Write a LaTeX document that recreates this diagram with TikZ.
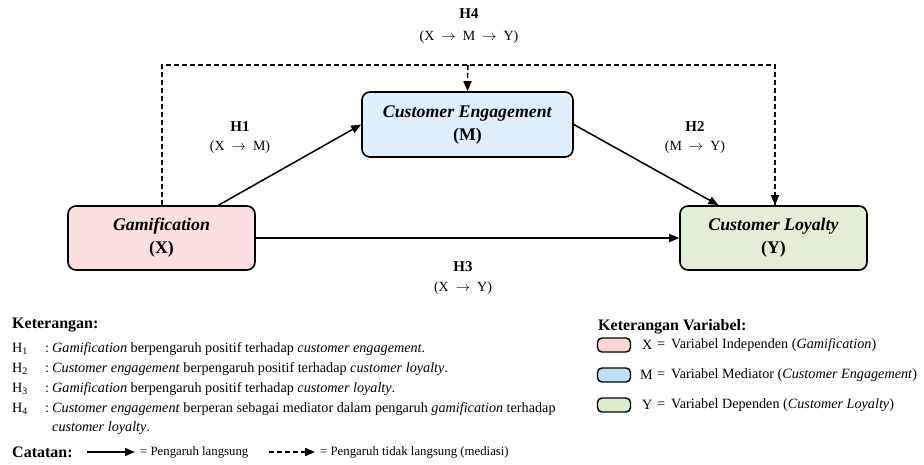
\documentclass[tikz,border=0pt]{standalone}
\usepackage{fontspec}
\setmainfont{Liberation Serif}
\usetikzlibrary{arrows.meta,positioning,calc}
\definecolor{xfill}{HTML}{FBDEDE}
\definecolor{mfill}{HTML}{E0EEFA}
\definecolor{yfill}{HTML}{E2EFD6}
\definecolor{xsw}{HTML}{F8D6D6}
\definecolor{msw}{HTML}{BEDFF8}
\definecolor{ysw}{HTML}{DCEBCB}
\newcommand{\rarr}{\enspace$\rightarrow$\enspace}
\tikzset{
  varbox/.style={draw=black, line width=1.6pt, rounded corners=8pt, align=center,
    font=\fontsize{17.8}{23}\selectfont\bfseries, inner sep=0pt},
  hlab/.style={font=\fontsize{15}{17}\selectfont\bfseries, inner sep=0pt},
  hsub/.style={font=\fontsize{14}{16}\selectfont, inner sep=0pt},
  conn/.style={line width=1.5pt, -{Triangle[length=10pt,width=8pt]}},
  dconn/.style={line width=1.5pt, dash pattern=on 5pt off 3pt},
  legtxt/.style={font=\fontsize{14.2}{16}\selectfont, anchor=west, inner sep=0pt},
  cattxt/.style={font=\fontsize{12.8}{16}\selectfont, anchor=west, inner sep=0pt},
  leghead/.style={font=\fontsize{16}{18}\selectfont\bfseries, anchor=west, inner sep=0pt},
  swatch/.style={draw=black, line width=1.4pt, rounded corners=4.5pt, minimum width=33pt, minimum height=14pt, inner sep=0pt}
}
\begin{document}
\begin{tikzpicture}[x=1pt,y=-1pt]
\useasboundingbox[fill=white] (0,0) rectangle (924,464);

% main boxes
\node[varbox, fill=xfill, minimum width=187pt, minimum height=64pt] (X) at (161.5,238) {\textit{Gamification}\\(X)};
\node[varbox, fill=mfill, minimum width=211pt, minimum height=65pt] (M) at (467.5,124.5) {\textit{Customer Engagement}\\(M)};
\node[varbox, fill=yfill, minimum width=187pt, minimum height=64pt] (Y) at (773.5,238) {\textit{Customer Loyalty}\\(Y)};

% direct paths
\draw[conn] ([xshift=57pt]X.north) -- (M.west);
\draw[conn] (M.east) -- ([xshift=-55pt]Y.north);
\draw[conn] (X.east) -- (Y.west);

% indirect path
\coordinate (tl) at (162,65);
\coordinate (tr) at (775,65);
\coordinate (tm) at (468,65);
\draw[dconn] (X.north -| tl) -- (tl) -- (tr) -- (Y.north -| tr);
\draw[line width=1.5pt, -{Triangle[length=10pt,width=8pt]}] ($(Y.north -| tr)+(0,-10)$) -- (Y.north -| tr);
\draw[dconn] (tm) -- ($(M.north)+(0,-10)$);
\draw[line width=1.5pt, -{Triangle[length=10pt,width=8pt]}] ($(M.north)+(0,-10)$) -- (M.north);

% hypothesis labels
\node[hlab] (h4) at (469,14) {H4};
\node[hsub] (h4s) at (469,37) {(X\rarr M\rarr Y)};
\node[hlab] (h1) at (240,127) {H1};
\node[hsub] (h1s) at (240,147) {(X\rarr M)};
\node[hlab] (h2) at (695,127) {H2};
\node[hsub] (h2s) at (695,147) {(M\rarr Y)};
\node[hlab] (h3) at (463,267) {H3};
\node[hsub] (h3s) at (463,288) {(X\rarr Y)};

% legend left
\node[leghead] (ket) at (12,325) {Keterangan:};
\node[legtxt] (l1a) at (12,349) {H\textsubscript{1}};
\node[legtxt] (l1b) at (45,349) {:};
\node[legtxt] (l1c) at (52,349) {\textit{Gamification} berpengaruh positif terhadap \textit{customer engagement}.};
\node[legtxt] (l2a) at (12,369) {H\textsubscript{2}};
\node[legtxt] (l2b) at (45,369) {:};
\node[legtxt] (l2c) at (52,369) {\textit{Customer engagement} berpengaruh positif terhadap \textit{customer loyalty}.};
\node[legtxt] (l3a) at (12,389) {H\textsubscript{3}};
\node[legtxt] (l3b) at (45,389) {:};
\node[legtxt] (l3c) at (52,389) {\textit{Gamification} berpengaruh positif terhadap \textit{customer loyalty}.};
\node[legtxt] (l4a) at (12,409) {H\textsubscript{4}};
\node[legtxt] (l4b) at (45,409) {:};
\node[legtxt] (l4c) at (52,409) {\textit{Customer engagement} berperan sebagai mediator dalam pengaruh \textit{gamification} terhadap};
\node[legtxt] (l4d) at (52,428) {\textit{customer loyalty}.};

\node[leghead] (cat) at (12,452) {Catatan:};
\coordinate (s1) at (87,452);
\coordinate (s2) at (135,452);
\draw[conn] (s1) -- (s2);
\node[cattxt] (cat1) at (140,452) {= Pengaruh langsung};
\coordinate (d1) at (269,452);
\coordinate (d2) at (315,452);
\draw[line width=1.5pt, dash pattern=on 5pt off 3pt, -{Triangle[length=10pt,width=8pt]}] (d1) -- (d2);
\node[cattxt] (cat2) at (320,452) {= Pengaruh tidak langsung (mediasi)};

% legend right
\node[leghead] (ketv) at (598,327) {Keterangan Variabel:};
\node[swatch, fill=xsw] (sx) at (614,345) {};
\node[swatch, fill=msw] (sm) at (614,375) {};
\node[swatch, fill=ysw] (sy) at (614,405) {};
\node[legtxt] (vx1) at (642,345) {X};
\node[legtxt] (vx2) at (657,345) {=};
\node[legtxt] (vx3) at (671,345) {Variabel Independen (\textit{Gamification})};
\node[legtxt] (vm1) at (640,375) {M};
\node[legtxt] (vm2) at (657,375) {=};
\node[legtxt] (vm3) at (671,375) {Variabel Mediator (\textit{Customer Engagement})};
\node[legtxt] (vy1) at (642,405) {Y};
\node[legtxt] (vy2) at (657,405) {=};
\node[legtxt] (vy3) at (671,405) {Variabel Dependen (\textit{Customer Loyalty})};
\end{tikzpicture}
\end{document}
